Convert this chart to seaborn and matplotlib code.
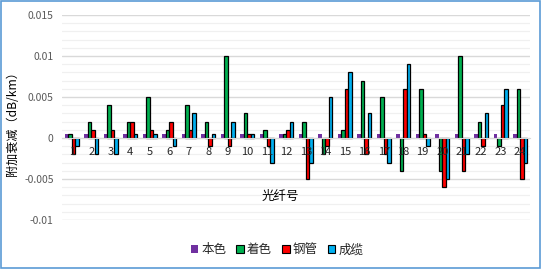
import numpy as np
import pandas as pd
import matplotlib
matplotlib.use("Agg")
import matplotlib.pyplot as plt
import seaborn as sns
from matplotlib.patches import Rectangle, Patch
import matplotlib.transforms as mtransforms

fibers = [str(i) for i in range(1, 25)]
series_names = ["本色", "着色", "钢管", "成缆"]
bense = [0.0005] * 24
zhuose = [0.0005, 0.002, 0.004, 0.002, 0.005, 0.001, 0.004, 0.002, 0.010, 0.003, 0.001, 0.0005,
          0.002, -0.002, 0.001, 0.007, 0.005, -0.004, 0.006, -0.004, 0.010, 0.002, -0.001, 0.006]
gangguan = [-0.002, 0.001, 0.001, 0.002, 0.001, 0.002, 0.001, -0.001, -0.001, 0.0005, -0.001, 0.001,
            -0.005, -0.001, 0.006, -0.002, -0.002, 0.006, 0.0005, -0.006, -0.004, -0.001, 0.004, -0.005]
chenglan = [-0.001, -0.002, -0.002, 0.0005, 0.0005, -0.001, 0.003, 0.0005, 0.002, 0.0005, -0.003, 0.002,
            -0.003, 0.005, 0.008, 0.003, -0.003, 0.009, -0.001, -0.005, -0.002, 0.003, 0.006, -0.003]
ytick_vals = [-0.01, -0.005, 0, 0.005, 0.01, 0.015]
ytick_labels = ["-0.01", "-0.005", "0", "0.005", "0.01", "0.015"]
colors = ["#7030A0", "#00B050", "#FF0000", "#00B0F0"]

df = pd.DataFrame({
    "fiber": fibers * 4,
    "series": sum([[s] * 24 for s in series_names], []),
    "value": bense + zhuose + gangguan + chenglan,
})

sns.set_style("white")
plt.rcParams["font.family"] = ["Noto Sans CJK SC", "DejaVu Sans"]

fig = plt.figure(figsize=(5.41, 2.69), dpi=100)
ax = fig.add_axes([62 / 541, (269 - 220) / 269, (530 - 62) / 541, (220 - 15) / 269])

sns.barplot(data=df, x="fiber", y="value", hue="series", order=fibers, hue_order=series_names,
            palette=colors, width=0.73, saturation=1, ax=ax, legend=False,
            edgecolor="black", linewidth=0.9, errorbar=None)
for p in ax.containers[0]:
    p.set_edgecolor("none")

ax.set_ylim(-0.01, 0.015)
ax.set_xlim(-0.5, 23.5)
ax.set_yticks(ytick_vals)
ax.set_yticklabels(ytick_labels)
ax.set_yticks(np.arange(-0.01, 0.0151, 0.001), minor=True)
ax.grid(axis="y", which="major", color="#D9D9D9", linewidth=1.0)
ax.grid(axis="y", which="minor", color="#F0F0F0", linewidth=0.9)
ax.set_axisbelow(True)
for s in ["top", "right", "left"]:
    ax.spines[s].set_visible(False)
ax.spines["bottom"].set_position(("data", 0))
ax.spines["bottom"].set_color("#D9D9D9")
ax.spines["bottom"].set_zorder(1)
ax.tick_params(axis="y", which="both", length=0, labelsize=7.5, labelcolor="#595959", pad=6)
ax.tick_params(axis="x", which="major", length=0, labelbottom=False)
ax.set_xticks(np.arange(-0.5, 24, 1), minor=True)
ax.tick_params(axis="x", which="minor", length=4, color="#D9D9D9", width=0.8)
ax.set_xlabel("")
ax.set_ylabel("")

# category labels drawn over the bars, just below the zero line
off = mtransforms.offset_copy(ax.transData, fig=fig, x=0, y=-14, units="dots")
for i, lab in enumerate(fibers):
    ax.text(i, 0, lab, transform=off, ha="center", va="center", fontsize=8,
            color="#262626", zorder=10, clip_on=False)

fig.text(12.5 / 541, 1 - 121 / 269, "附加衰减（dB/km）", rotation=90, ha="center", va="center",
         fontsize=8.7, color="#000000")
fig.text(280 / 541, 1 - 196 / 269, "光纤号", ha="center", va="center", fontsize=9, color="#000000")

handles = [Patch(facecolor=c, edgecolor=("none" if i == 0 else "black"), linewidth=0.8)
           for i, c in enumerate(colors)]
fig.legend(handles, series_names, loc="center", bbox_to_anchor=(277 / 541, 1 - 250 / 269), ncol=4,
           frameon=False, fontsize=9, handlelength=0.6, handleheight=0.6, handletextpad=0.25,
           columnspacing=0.8)

fig.patches.append(Rectangle((0.001, 0.002), 0.997, 0.995, transform=fig.transFigure,
                             fill=False, edgecolor="#5B9BD5", linewidth=1.2))

fig.savefig("out.png", dpi=100)
